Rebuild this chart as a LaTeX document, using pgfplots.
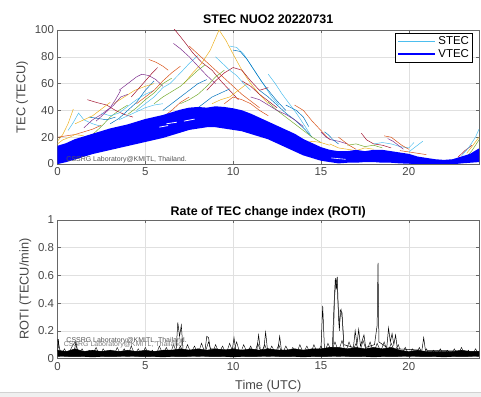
\documentclass[border=0pt]{standalone}
\usepackage{fontspec}
\setmainfont{Liberation Sans}
\usepackage{pgfplots}
\pgfplotsset{compat=1.18}
\definecolor{c1}{rgb}{0,0.447,0.741}
\definecolor{c2}{rgb}{0.85,0.325,0.098}
\definecolor{c3}{rgb}{0.929,0.694,0.125}
\definecolor{c4}{rgb}{0.494,0.184,0.556}
\definecolor{c5}{rgb}{0.466,0.674,0.188}
\definecolor{c6}{rgb}{0.301,0.745,0.933}
\definecolor{c7}{rgb}{0.635,0.078,0.184}
\definecolor{axgray}{rgb}{0.15,0.15,0.15}
\definecolor{gridgray}{rgb}{0.88,0.88,0.88}
\pgfplotsset{
  matstyle/.style={
    width=421.5bp, height=134bp, scale only axis,
    xmin=0, xmax=24, xtick={0,5,10,15,20},
    grid=major, grid style={gridgray, line width=0.5pt},
    axis line style={axgray!70, line width=0.5pt},
    tick style={axgray!70, line width=0.5pt},
    major tick length=3bp, tick align=inside,
    /pgf/number format/assume math mode=true,
    ticklabel style={font=\fontsize{11.5}{13}\selectfont, text=axgray!85},
    label style={font=\fontsize{12.8}{14}\selectfont, text=axgray!85},
    title style={font=\bfseries\fontsize{12.5}{14}\selectfont, text=black, yshift=-3bp},
    anchor=south west,
  },
  st/.style={forget plot, #1, line width=0.5pt},
}
\begin{document}
\begin{tikzpicture}
\useasboundingbox (0,0) rectangle (481bp,397bp);
\fill[gray!12] (0,0) rectangle (481bp,5bp);
\draw[gray!35] (0,5bp) -- (481bp,5bp);
% ---------------- TOP AXIS ----------------
\begin{axis}[matstyle, at={(57.5bp,233bp)},
  ymin=0, ymax=100, ytick={0,20,40,60,80,100},
  title={STEC NUO2 20220731},
  ylabel={TEC (TECU)},
  legend style={at={(0.985,0.978)}, anchor=north east, draw=black, line width=0.4pt,
    font=\fontsize{11.5}{13}\selectfont, inner sep=1.5bp, row sep=-1bp},
  legend cell align=left,
  legend image code/.code={\draw[#1] (0bp,0bp) -- (37bp,0bp);},
]
\addlegendimage{c6, line width=0.6pt}
\addlegendentry{STEC}
\addlegendimage{blue, line width=2.6pt}
\addlegendentry{VTEC}
% STEC arcs
\addplot[st=c3] coordinates {(0,17)(0.3,22)(0.6,30)(0.9,41)};
\addplot[st=c6] coordinates {(0.6,25)(0.9,31)(1.2,38)(1.5,33)(2,30)(2.5,28)};
\addplot[st=c2] coordinates {(0,20)(0.5,21)(1,22)(1.5,24)(2,26)(2.5,29)};
\addplot[st=c4] coordinates {(1.5,27)(2,33)(2.5,37)(3,42)(3.3,48)(3.6,55)};
\addplot[st=c5] coordinates {(2,22)(2.5,28)(3,35)(3.5,40)(4,44)};
\addplot[st=c7] coordinates {(1.7,48)(2.2,46)(2.8,44)(3.3,40)(3.8,37)(4.3,35)};
\addplot[st=c1] coordinates {(3,30)(3.5,34)(4,40)(4.5,46)(5,55)(5.5,62)};
\addplot[st=c4] coordinates {(3.5,55)(4,60)(4.5,65)(4.8,67)(5.2,66)(5.6,63)(6,58)};
\addplot[st=c3] coordinates {(3.2,45)(3.8,50)(4.4,55)(5,58)(5.5,60)};
\addplot[st=c6] coordinates {(4.5,40)(5,45)(5.5,50)(6,57)(6.4,60)(7,68)(7.5,75)(8,81)};
\addplot[st=c2] coordinates {(5.2,78)(5.6,76)(6,73)(6.3,70)};
\addplot[st=c7] coordinates {(6.5,103)(7,95)(7.3,90)(7.7,83)(8.2,76)(8.8,70)(9.3,62)(9.8,55)(10.3,48)};
\addplot[st=c3] coordinates {(7.2,60)(7.7,68)(8.2,75)(8.7,85)(9.2,100)(9.6,92)(10,82)(10.5,70)(11,60)(11.5,52)(12,45)};
\addplot[st=c6] coordinates {(9.8,88)(10.2,87)(10.6,82)(11,74)(11.4,66)(11.8,58)(12.2,50)(12.6,44)};
\addplot[st=c1] coordinates {(10,85)(10.4,84)(10.8,78)(11.2,70)(11.6,62)(12,55)(12.5,47)(13,40)};
\addplot[st=c5] coordinates {(5.5,45)(6,50)(6.5,54)(7,58)(7.5,64)(8,70)(8.4,74)};
\addplot[st=c2] coordinates {(7.5,88)(8,82)(8.5,76)(9,70)(9.5,64)(10,58)(10.5,52)(11,47)(11.5,42)};
\addplot[st=c4] coordinates {(6.6,90)(7,86)(7.5,80)(8,73)(8.5,66)(9,60)};
\addplot[st=c7] coordinates {(8.5,55)(9,62)(9.5,68)(10,72)(10.5,70)(11,62)(11.5,55)(12,57)};
\addplot[st=c3] coordinates {(8.8,45)(9.3,48)(9.8,50)(10.3,55)(10.8,60)};
\addplot[st=c6] coordinates {(12,67)(12.4,60)(12.8,52)(13.2,45)(13.6,38)(14,30)(14.4,22)};
\addplot[st=c1] coordinates {(11.5,55)(12,50)(12.5,44)(13,38)(13.5,33)(14,27)(14.5,20)};
\addplot[st=c2] coordinates {(13.5,44)(14,40)(14.5,32)(15,25)(15.5,18)};
\addplot[st=c5] coordinates {(12,46)(12.5,40)(13,35)(13.5,30)(14,25)(14.5,20)(15,16)};
\addplot[st=c4] coordinates {(15,24)(15.3,20)(15.6,18)(16,17)(16.5,15)};
\addplot[st=c7] coordinates {(17.3,23)(17.6,18)(18,15)(18.5,14)(19,12)};
\addplot[st=c6] coordinates {(18,15)(18.5,16)(19,15)(19.5,13)(20,12)(20.3,16)};
\addplot[st=c2] coordinates {(18.6,21)(19,20)(19.3,17)(19.6,14)(20,11)};
\addplot[st=c3] coordinates {(15.5,15)(16,12)(16.5,11)(17,10)(17.5,12)(18,11)};
\addplot[st=c1] coordinates {(15.2,24)(15.4,22)(15.7,18)(16,15)};
\addplot[st=c7] coordinates {(22.8,5)(23.2,10)(23.6,14)};
\addplot[st=c6] coordinates {(23,6)(23.4,12)(23.8,20)(24,26)};
\addplot[st=c5] coordinates {(23.2,4)(23.6,10)(24,18)};
\addplot[st=c2] coordinates {(19.5,10)(20,9)(20.5,8)(21,7)};
\addplot[st=c3] coordinates {(0,15)(0.3,18)(0.7,20)(1,22)(1.5,21)};
\addplot[st=c5] coordinates {(4,37)(4.5,42)(5,48)(5.5,53)(6,60)(6.5,64)};
\addplot[st=c1] coordinates {(1.8,35)(2.3,34)(2.8,33)(3.3,35)};
\addplot[st=c2] coordinates {(5.5,30)(6,35)(6.5,40)(7,46)(7.5,50)};
\addplot[st=c6] coordinates {(2.5,38)(3,36)(3.5,38)(4,43)(4.5,48)(5,52)(5.5,55)};
\addplot[st=c4] coordinates {(2.2,32)(2.7,38)(3.2,44)(3.6,50)(4,52)};
\addplot[st=c7] coordinates {(4.2,50)(4.6,56)(5,62)(5.4,68)(5.7,72)};
\addplot[st=c1] coordinates {(6,40)(6.5,45)(7,50)(7.5,55)(8,60)(8.5,63)};
\addplot[st=c5] coordinates {(7,45)(7.5,48)(8,52)(8.5,58)(9,65)(9.5,70)};
\addplot[st=c3] coordinates {(1,30)(1.5,33)(2,36)(2.5,41)(3,46)};
\addplot[st=c6] coordinates {(3.5,33)(4,36)(4.5,39)(5,42)(5.5,44)(6,45)};
\addplot[st=c2] coordinates {(9.5,45)(10,50)(10.5,48)(11,45)(11.5,40)(12,36)};
\addplot[st=c4] coordinates {(11,50)(11.5,48)(12,44)(12.5,40)(13,37)(13.5,33)(14,28)};
\addplot[st=c1] coordinates {(13,44)(13.3,42)(13.6,40)(14,35)(14.3,28)};
\addplot[st=c7] coordinates {(10.5,62)(11,58)(11.5,52)(12,47)(12.5,42)};
\addplot[st=c3] coordinates {(14,15)(14.5,17)(15,16)(15.5,14)};
\addplot[st=c5] coordinates {(16.5,14)(17,15)(17.5,13)(18,14)(18.5,12)};
\addplot[st=c6] coordinates {(20,9)(20.3,12)(20.6,15)(20.8,17)};
\addplot[st=c2] coordinates {(16,20)(16.3,17)(16.6,14)(17,11)};
\addplot[st=c4] coordinates {(18.8,19)(19.1,17)(19.4,14)(19.7,11)};
\addplot[st=c3] coordinates {(23.3,8)(23.6,13)(24,20)};
\addplot[st=c1] coordinates {(7.8,40)(8.3,45)(8.8,50)(9.3,53)(9.8,56)};
\addplot[st=c6] coordinates {(9,80)(9.4,75)(9.8,70)(10.2,66)(10.6,60)(11,55)};
\addplot[st=c2] coordinates {(4.5,45)(5,50)(5.5,55)(6,62)(6.5,68)(7,73)};
% VTEC band
\addplot[forget plot, draw=blue, fill=blue, line width=1.5pt, line join=round] coordinates {
(0,13)(0.5,15)(1,18)(1.5,20)(2,22)(2.5,24)(3,26)(3.5,27.5)(4,29)(4.5,31)(5,33)(5.5,34.5)(6,36)(6.5,38)(7,40)(7.5,41.5)(8,42)(8.5,41.5)(9,42.5)(9.5,42)(10,41)(10.5,39.5)(11,37)(11.5,34)(12,31)(12.5,28)(13,25)(13.5,22)(14,18)(14.5,15)(15,12)(15.5,10)(16,9)(16.5,9)(17,10)(17.5,9)(18,10)(18.5,10)(19,9)(19.5,8)(20,7)(20.5,5)(21,4)(21.5,3)(22,2.5)(22.5,3)(23,5)(23.5,7)(24,11)
(24,2)(23.5,1.5)(23,1)(22.5,0.3)(22,0)(21.5,0)(21,0.3)(20.5,0.5)(20,0.8)(19.5,1)(19,1.5)(18.5,1.5)(18,2)(17.5,2)(17,1.5)(16.5,1.5)(16,1)(15.5,2)(15,3)(14.5,5)(14,7)(13.5,10)(13,13)(12.5,16)(12,19)(11.5,21)(11,23)(10.5,25)(10,26)(9.5,27)(9,28)(8.5,28)(8,27)(7.5,26)(7,24)(6.5,22)(6,20)(5.5,18.5)(5,17)(4.5,15.5)(4,14)(3.5,12.5)(3,11)(2.5,9.5)(2,8)(1.5,6)(1,4)(0.5,2)(0,0.5)} -- cycle;
\addplot[forget plot, white, line width=0.8pt] coordinates {(6.2,30)(6.8,31.2)};
\addplot[forget plot, white, line width=0.8pt] coordinates {(7.2,32)(7.8,33.5)};
\addplot[forget plot, white, line width=0.8pt] coordinates {(5.8,27.5)(6.3,28.7)};
\addplot[forget plot, white, line width=0.6pt] coordinates {(15.6,4.5)(16.4,3.5)};
\node[anchor=south west, font=\fontsize{7}{8}\selectfont, text=axgray!80, inner sep=0pt] at (axis cs:0.5,0.8) {CSSRG Laboratory@KMITL, Thailand.};
\end{axis}
% ---------------- BOTTOM AXIS ----------------
\begin{axis}[matstyle, at={(57.5bp,38.5bp)}, height=138.5bp,
  ymin=0, ymax=1, ytick={0,0.2,0.4,0.6,0.8,1},
  title={Rate of TEC change index (ROTI)},
  title style={yshift=-5bp},
  xlabel={Time (UTC)}, xlabel style={yshift=-3bp},
  ylabel={ROTI (TECU/min)},
]
\addplot[black, fill=black, line width=0.4pt] coordinates {
(0,0.06)(0.5,0.05)(1,0.07)(1.5,0.05)(2,0.06)(2.5,0.05)(3,0.06)(3.5,0.05)(4,0.06)(4.5,0.05)(5,0.06)(5.5,0.05)(6,0.06)(6.5,0.06)(7,0.07)(7.5,0.06)(8,0.07)(8.5,0.06)(9,0.07)(9.5,0.06)(10,0.07)(10.5,0.06)(11,0.07)(11.5,0.06)(12,0.07)(12.5,0.06)(13,0.06)(13.5,0.07)(14,0.06)(14.5,0.07)(15,0.07)(15.5,0.08)(16,0.08)(16.5,0.07)(17,0.08)(17.5,0.07)(18,0.08)(18.5,0.07)(19,0.08)(19.5,0.06)(20,0.05)(20.5,0.06)(21,0.05)(21.5,0.05)(22,0.05)(22.5,0.05)(23,0.06)(23.5,0.05)(24,0.05)
(24,0.015)(22,0.012)(20,0.015)(18,0.012)(16,0.015)(14,0.012)(12,0.015)(10,0.012)(8,0.015)(6,0.012)(4,0.015)(2,0.012)(0,0.015)} -- cycle;
\addplot[black, line width=0.4pt] coordinates {
(0,0.14)(0.2,0.03)(0.4,0.07)(0.6,0.02)(0.8,0.08)(1.0,0.12)(1.2,0.03)(1.4,0.07)(1.6,0.02)(1.8,0.06)(2.0,0.03)(2.2,0.08)(2.4,0.02)(2.6,0.07)(2.8,0.03)(3.0,0.06)(3.2,0.02)(3.4,0.08)(3.6,0.03)(3.8,0.07)(4.0,0.02)(4.2,0.09)(4.4,0.03)(4.6,0.07)(4.8,0.02)(5.0,0.08)(5.2,0.03)(5.4,0.06)(5.6,0.02)(5.8,0.09)(6.0,0.03)(6.2,0.08)(6.4,0.02)(6.6,0.1)(6.8,0.04)(7.0,0.09)(7.2,0.03)(7.4,0.1)(7.6,0.04)(7.8,0.09)(8.0,0.03)(8.2,0.11)(8.4,0.04)(8.6,0.12)(8.8,0.03)(9.0,0.1)(9.2,0.04)(9.4,0.09)(9.6,0.03)(9.8,0.11)(10.0,0.04)(10.2,0.12)(10.4,0.03)(10.6,0.1)(10.8,0.04)(11.0,0.09)(11.2,0.03)(11.4,0.11)(11.6,0.04)(11.8,0.1)(12.0,0.03)(12.2,0.09)(12.4,0.04)(12.6,0.1)(12.8,0.03)(13.0,0.09)(13.2,0.04)(13.4,0.08)(13.6,0.03)(13.8,0.1)(14.0,0.04)(14.2,0.09)(14.4,0.03)(14.6,0.1)(14.8,0.04)(15.0,0.09)(15.2,0.04)(15.4,0.11)(15.6,0.05)(15.8,0.12)(16.0,0.05)(16.2,0.13)(16.4,0.04)(16.6,0.12)(16.8,0.05)(17.0,0.11)(17.2,0.04)(17.4,0.13)(17.6,0.05)(17.8,0.12)(18.0,0.04)(18.2,0.11)(18.4,0.05)(18.6,0.12)(18.8,0.04)(19.0,0.11)(19.2,0.05)(19.4,0.1)(19.6,0.03)(19.8,0.08)(20.0,0.03)(20.2,0.07)(20.4,0.02)(20.6,0.08)(20.8,0.03)(21.0,0.07)(21.2,0.02)(21.4,0.06)(21.6,0.03)(21.8,0.07)(22.0,0.02)(22.2,0.06)(22.4,0.03)(22.6,0.07)(22.8,0.02)(23.0,0.08)(23.2,0.03)(23.4,0.06)(23.6,0.02)(23.8,0.07)(24.0,0.03)};
\addplot[black, line width=0.5pt] coordinates {
(0,0.05)(0.05,0.14)(0.1,0.05)(0.95,0.05)(1.05,0.12)(1.15,0.05)(6.75,0.05)(6.85,0.26)(6.95,0.16)(7.05,0.24)(7.15,0.06)(8.4,0.06)(8.5,0.16)(8.6,0.15)(8.7,0.07)(9.95,0.06)(10.05,0.15)(10.15,0.06)(11.35,0.06)(11.45,0.17)(11.55,0.06)(11.75,0.07)(11.85,0.19)(11.95,0.07)(12.55,0.06)(12.65,0.16)(12.75,0.06)(15.0,0.06)(15.1,0.38)(15.2,0.07)(15.65,0.08)(15.75,0.4)(15.82,0.58)(15.88,0.5)(15.93,0.59)(16.0,0.3)(16.05,0.2)(16.1,0.35)(16.2,0.33)(16.3,0.1)(16.85,0.08)(16.95,0.2)(17.05,0.1)(17.15,0.21)(17.25,0.09)(17.45,0.17)(17.55,0.08)(18.05,0.1)(18.2,0.24)(18.25,0.69)(18.3,0.12)(18.75,0.08)(18.85,0.22)(18.95,0.12)(19.05,0.18)(19.15,0.1)(19.25,0.17)(19.35,0.07)(20.75,0.06)(20.85,0.15)(20.95,0.06)(24,0.05)};
\addplot[black!80, line width=0.5pt] coordinates {(15.7,0.1)(15.78,0.45)(15.85,0.55)(15.9,0.57)(15.97,0.4)(16.05,0.25)(16.15,0.35)(16.22,0.28)(16.3,0.12)};
\node[anchor=south west, font=\fontsize{7}{8}\selectfont, text=axgray!80, inner sep=0pt] at (axis cs:0.5,0.105) {CSSRG Laboratory@KMITL, Thailand.};
\node[anchor=south west, font=\fontsize{7}{8}\selectfont, text=axgray!60, inner sep=0pt] at (axis cs:0.35,0.075) {CSSRG Laboratory@KMITL, Thailand.};
\end{axis}
\end{tikzpicture}
\end{document}
